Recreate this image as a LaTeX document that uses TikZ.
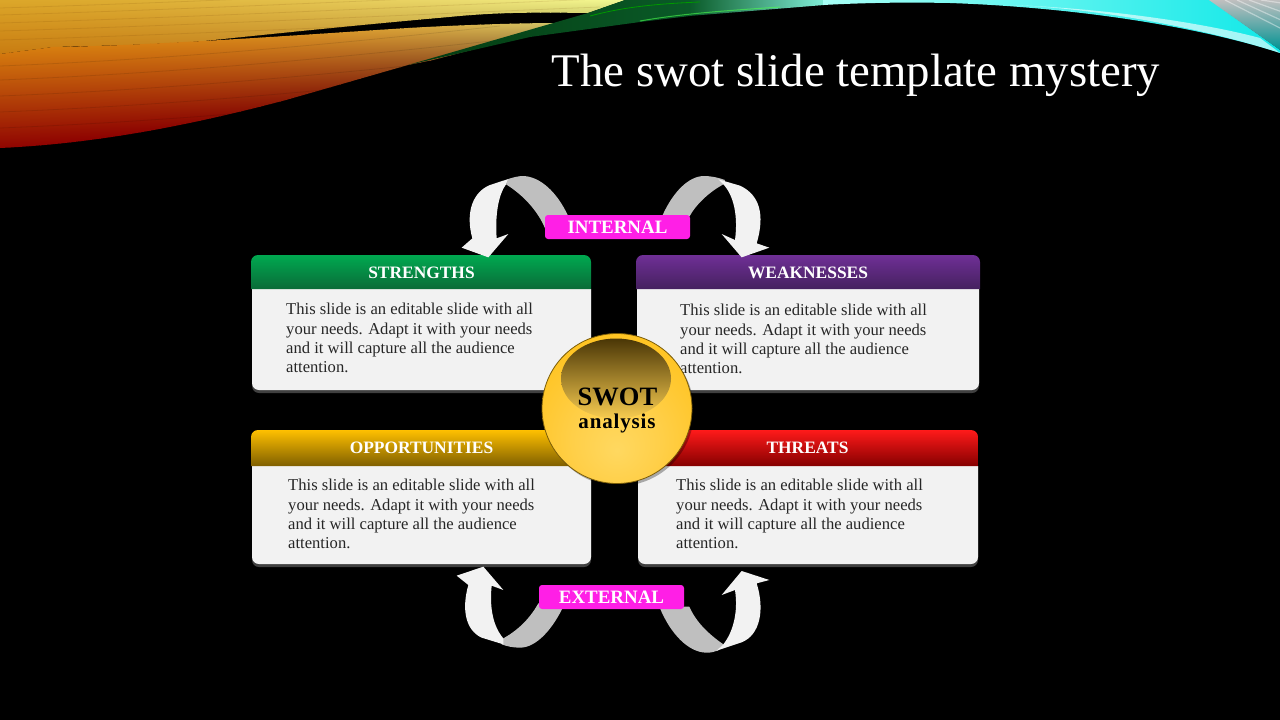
\documentclass[tikz,border=0pt]{standalone}
\usepackage{fontspec}
\setmainfont{Liberation Serif}
\definecolor{cardbg}{HTML}{F2F2F2}
\definecolor{pillc}{HTML}{FF1FE6}
\definecolor{greyband}{HTML}{BFBFBF}
\definecolor{wband}{HTML}{F2F2F2}
\definecolor{gA}{HTML}{00A950}\definecolor{gB}{HTML}{0A6B38}
\definecolor{pA}{HTML}{6F2F96}\definecolor{pB}{HTML}{45215F}
\definecolor{yA}{HTML}{FFC000}\definecolor{yB}{HTML}{7F5F00}
\definecolor{rA}{HTML}{FF1A1A}\definecolor{rB}{HTML}{850000}
\definecolor{ballA}{HTML}{FFD860}\definecolor{ballB}{HTML}{FFCF48}\definecolor{ballC}{HTML}{FFC21C}\definecolor{ballD}{HTML}{FFBC12}
\definecolor{capA}{HTML}{4A3606}\definecolor{capB}{HTML}{9C7820}\definecolor{capC}{HTML}{F8CC50}
\definecolor{ballrim}{HTML}{7A5C08}
% banner colours
\definecolor{uLt}{HTML}{DCA82A}\definecolor{uLb}{HTML}{C87A10}
\definecolor{uRt}{HTML}{F8FF9A}\definecolor{uRb}{HTML}{D0D878}
\definecolor{lLt}{HTML}{D9820F}\definecolor{lLm}{HTML}{E02000}\definecolor{lLb}{HTML}{8E0000}
\definecolor{lRt}{HTML}{D8D070}\definecolor{lRm}{HTML}{6A2000}\definecolor{lRb}{HTML}{200000}
\definecolor{grnD}{HTML}{033A10}\definecolor{grnM}{HTML}{0A5A28}\definecolor{aquaM}{HTML}{80EED8}
\definecolor{cyanL}{HTML}{A8FFF6}\definecolor{cyanR}{HTML}{10E8E8}
\pgfdeclareradialshading{goldball}{\pgfpoint{0bp}{-14bp}}{color(0bp)=(ballA); color(15bp)=(ballB); color(35bp)=(ballC); color(50bp)=(ballD); color(70bp)=(ballD)}
\tikzset{
  x=1pt,y=-1pt,
  cardtitle/.style={text=white,font=\bfseries\fontsize{17.4}{19}\selectfont,inner sep=0pt,anchor=center},
  cardtext/.style={text=black!85,font=\fontsize{16.6}{19.4}\selectfont,align=left,anchor=north west,inner sep=0pt},
  pill/.style={fill=pillc,rounded corners=3pt,minimum width=145pt,minimum height=24pt,inner sep=0pt,text=white,font=\bfseries\fontsize{18.9}{20}\selectfont},
  greyarc/.style={fill=greyband,draw=none},
  whitearc/.style={fill=wband,draw=none},
}
\newcommand{\swotcard}[9]{% x1 bx1 bx2 x2 y1 ysplit y2 topcol botcol
  \fill[black!75] (#2,#6) -- (#2,#7-7+3) arc[start angle=180,end angle=270,radius=7pt] -- (#3-7,#7+3) arc[start angle=270,end angle=360,radius=7pt] -- (#3,#6) -- cycle;
  \fill[cardbg] (#2,#6) -- (#2,#7-7) arc[start angle=180,end angle=270,radius=7pt] -- (#3-7,#7) arc[start angle=270,end angle=360,radius=7pt] -- (#3,#6) -- cycle;
  \shade[top color=#8,bottom color=#9] (#1,#6) -- (#1,#5+7) arc[start angle=180,end angle=90,radius=7pt] -- (#4-7,#5) arc[start angle=90,end angle=0,radius=7pt] -- (#4,#6) -- cycle;
}
\begin{document}
\begin{tikzpicture}
\useasboundingbox (0,0) rectangle (1280,720);
\fill[black] (0,0) rectangle (1280,720);
% banner: upper warm band
\begin{scope}
\clip (0,0) -- (625,0) -- (588,13) .. controls (520,12) and (490,13) .. (449,17) .. controls (380,23) and (290,32) .. (204,41) .. controls (150,45) and (90,46) .. (53,47) -- (0,54) -- cycle;
\foreach \sx in {0,10,...,620}{
  \pgfmathtruncatemacro{\mixv}{100*(1-(\sx/620)^1.5)}
  \shade[top color=uLt!\mixv!uRt,bottom color=uLb!\mixv!uRb] (\sx,-2) rectangle (\sx+11,56-\sx*0.07);
}
\foreach \yy in {8,15,23,31,40}{\draw[black!60!orange,opacity=.12,line width=.8pt] (0,\yy) .. controls (200,\yy-6) and (400,\yy-16) .. (600,\yy-24);}
\end{scope}
% banner: lower warm band
\begin{scope}
\clip (0,54) -- (53,47) .. controls (120,46) and (160,43) .. (204,41) .. controls (290,36) and (360,31) .. (408,28) .. controls (460,25) and (520,23) .. (559,23) -- (490,45) -- (433,60) -- (408,65) -- (286,100) .. controls (210,120) and (110,143) .. (0,148) -- cycle;
\foreach \sx in {0,10,...,560}{
  \pgfmathtruncatemacro{\mixv}{100*(1-(\sx/560)^2.5)}
  \pgfmathsetmacro{\ytop}{45-\sx*0.045}
  \pgfmathsetmacro{\ybot}{152-\sx*0.13}
  \shade[top color=lLt!\mixv!lRt,middle color=lLm!\mixv!lRm,bottom color=lLb!\mixv!lRb] (\sx,\ytop) rectangle (\sx+11,\ybot);
}
\foreach \yy in {66,80,96,112,128}{\draw[black,opacity=.1,line width=.8pt] (0,\yy) .. controls (150,\yy-6) and (300,\yy-18) .. (500,\yy-40);}
\end{scope}
% banner: green streak
\shade[left color=grnD,right color=grnM] (408,65) -- (588,13) -- (625,0) -- (690,0) -- (690,16) -- (640,22) -- (530,37) -- cycle;
\shade[left color=grnM,right color=aquaM] (689,0) -- (825,0) -- (824,5) -- (689,16) -- cycle;
\draw[green!70!white,opacity=.6,line width=1pt] (640,21) .. controls (680,14) and (720,11) .. (780,7);
\draw[green!60!black,line width=.8pt] (590,16) .. controls (620,8) and (650,4) .. (700,2);
% banner: cyan band
\shade[left color=cyanL,right color=cyanR] (823,0) -- (1210,0) -- (1280,50) -- (1280,53) .. controls (1210,30) and (1090,8) .. (950,3) .. controls (900,2) and (860,3) .. (823,5) -- cycle;
\fill[white,opacity=.6] (1010,5) .. controls (1100,8) and (1210,30) .. (1280,53) -- (1260,38) .. controls (1200,22) and (1100,8) .. (1010,5) -- cycle;
% banner: grey-teal corner
\shade[top color=black!25!white,bottom color=teal!85!cyan] (1209,0) -- (1280,0) -- (1280,50) -- cycle;
\foreach \dd in {0,12,24,36}{\draw[white,opacity=.4,line width=1.2pt] (1225+\dd,0) -- (1280,28-\dd*.7);}
% title
\node[text=white,font=\fontsize{46.8}{50}\selectfont,inner sep=0pt] (title) at (856,75) {The swot slide template mystery};
% cards
\swotcard{251}{252}{591}{591}{255}{289}{390}{gA}{gB}
\swotcard{636}{637}{979}{980}{255}{289}{390}{pA}{pB}
\swotcard{251}{252}{591}{591}{430}{466}{564}{yA}{yB}
\swotcard{638}{638}{978}{978}{430}{466}{564}{rA}{rB}
\node[cardtitle] (strengths) at (421.5,273) {STRENGTHS};
\node[cardtitle] (weaknesses) at (808,273) {WEAKNESSES};
\node[cardtitle] (opportunities) at (421.5,447.5) {OPPORTUNITIES};
\node[cardtitle] (threats) at (807.5,447.5) {THREATS};
\node[cardtext] (stext) at (286,303) {This slide is an editable slide with all\\your needs. Adapt it with your needs\\and it will capture all the audience\\attention.};
\node[cardtext] (wtext) at (680,304) {This slide is an editable slide with all\\your needs. Adapt it with your needs\\and it will capture all the audience\\attention.};
\node[cardtext] (otext) at (288,479) {This slide is an editable slide with all\\your needs. Adapt it with your needs\\and it will capture all the audience\\attention.};
\node[cardtext] (ttext) at (676,479) {This slide is an editable slide with all\\your needs. Adapt it with your needs\\and it will capture all the audience\\attention.};
% top arrows
\begin{scope}[shift={(440,165)},scale=1/3]
\path[greyarc] (383,150) .. controls (350,80) and (300,35) .. (250,33) .. controls (235,33) and (220,37) .. (205,42) -- (198,58) .. controls (250,90) and (295,140) .. (315,190) -- cycle;
\path[whitearc] (205,42) -- (150,60) .. controls (100,80) and (75,140) .. (97,220) -- (65,248) -- (145,277) -- (205,207) -- (170,220) .. controls (165,150) and (175,90) .. (198,58) -- cycle;
\path[greyarc] (668,150) .. controls (700,80) and (745,35) .. (790,33) .. controls (815,33) and (835,38) .. (855,45) -- (850,58) .. controls (810,80) and (770,115) .. (748,155) -- cycle;
\path[whitearc] (835,43) -- (900,62) .. controls (960,90) and (975,150) .. (950,235) -- (988,248) -- (905,277) -- (845,207) -- (885,225) .. controls (895,150) and (880,90) .. (850,58) -- cycle;
\end{scope}
% bottom arrows
\begin{scope}[shift={(440,555)},scale=1/3]
\path[greyarc] (372,150) .. controls (340,220) and (290,278) .. (240,278) .. controls (220,278) and (200,274) .. (185,268) -- (190,250) .. controls (235,225) and (270,190) .. (295,145) -- cycle;
\path[whitearc] (190,268) -- (125,248) .. controls (75,225) and (65,160) .. (85,90) -- (50,62) -- (130,35) -- (190,105) -- (155,92) .. controls (148,160) and (160,215) .. (190,250) -- cycle;
\path[greyarc] (658,155) .. controls (690,235) and (745,293) .. (800,293) .. controls (815,293) and (825,290) .. (835,286) -- (850,268) .. controls (810,240) and (770,205) .. (748,155) -- cycle;
\path[whitearc] (830,287) -- (905,262) .. controls (960,240) and (975,165) .. (950,85) -- (988,75) -- (905,48) -- (845,120) -- (885,105) .. controls (895,170) and (880,230) .. (850,268) -- cycle;
\end{scope}
% pills
\node[pill] (internal) at (617.5,227) {INTERNAL};
\node[pill] (external) at (611.5,597) {EXTERNAL};
% centre ball
\fill[black,opacity=.3] (619,411) circle[radius=75pt];
\shade[shading=goldball] (617,408.5) circle[radius=75pt];
\draw[ballrim,line width=.8pt] (617,408.5) circle[radius=75pt];
\shade[top color=capA,middle color=capB,bottom color=capC] (616,378.5) ellipse[x radius=55pt,y radius=40pt];
\node[text=black,font=\bfseries\fontsize{26.5}{28}\selectfont,inner sep=0pt] (swot) at (617.5,396.5) {SWOT};
\node[text=black,font=\bfseries\fontsize{21}{24}\selectfont\addfontfeature{LetterSpace=4},inner sep=0pt] (analysis) at (617,423) {analysis};
\end{tikzpicture}
\end{document}
